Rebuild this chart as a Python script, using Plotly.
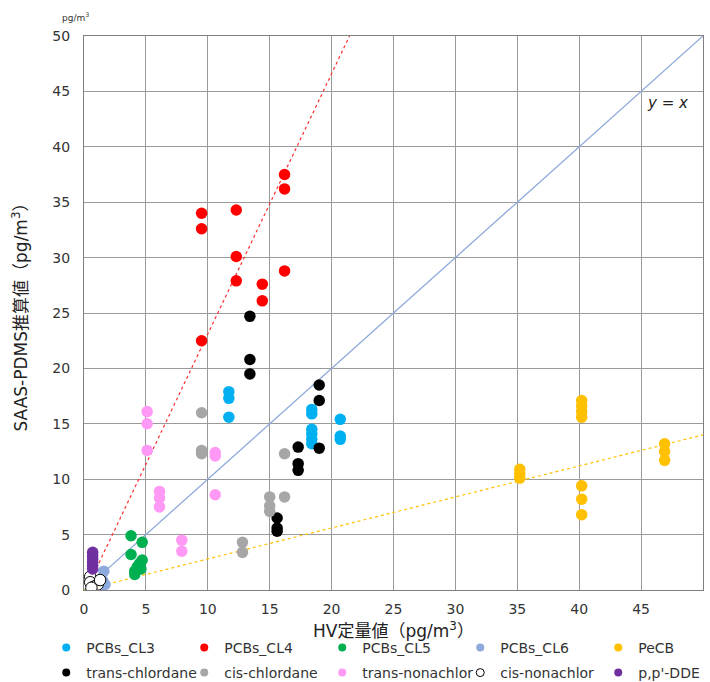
import numpy as np
import plotly.graph_objects as go

# ---- measured concentrations (x: HV, y: SAAS-PDMS estimate), pg/m3 ----
cl3_x = [11.7, 11.7, 11.7, 18.4, 18.4, 18.4, 18.4, 18.4, 18.4, 20.7, 20.7, 20.7]
cl3_y = [17.9, 17.3, 15.6, 16.3, 15.9, 14.5, 14.1, 13.6, 13.2, 15.4, 13.9, 13.6]

cl4_x = [9.5, 9.5, 9.5, 12.3, 12.3, 12.3, 14.4, 14.4, 16.2, 16.2, 16.2]
cl4_y = [34.0, 32.6, 22.5, 34.3, 30.1, 27.9, 27.6, 26.1, 37.5, 36.2, 28.8]

cl5_x = [3.8, 4.7, 3.8, 4.7, 4.5, 4.3, 4.6, 4.1, 4.1]
cl5_y = [4.9, 4.3, 3.2, 2.7, 2.4, 2.1, 1.9, 1.7, 1.4]

cl6_x = [1.6, 1.5, 1.7, 1.3]
cl6_y = [1.7, 0.9, 0.5, 0.3]

pecb_x = [35.2, 35.2, 35.2, 40.2, 40.2, 40.2, 40.2, 40.2, 40.2, 40.2, 46.9, 46.9, 46.9]
pecb_y = [10.9, 10.5, 10.1, 17.1, 16.6, 16.1, 15.6, 9.4, 8.2, 6.8, 13.2, 12.5, 11.7]

tchl_x = [13.4, 13.4, 13.4, 19.0, 19.0, 17.3, 19.0, 17.3, 17.3, 15.6, 15.6, 15.6]
tchl_y = [24.7, 20.8, 19.5, 18.5, 17.1, 12.9, 12.8, 11.4, 10.8, 6.5, 5.6, 5.3]

cchl_x = [9.5, 9.5, 9.5, 16.2, 15.0, 15.0, 15.0, 16.2, 12.8, 12.8]
cchl_y = [16.0, 12.6, 12.3, 12.3, 8.4, 7.6, 7.1, 8.4, 4.3, 3.4]

tnon_x = [5.1, 5.1, 5.1, 6.1, 6.1, 6.1, 10.6, 10.6, 10.6, 7.9, 7.9]
tnon_y = [16.1, 15.0, 12.6, 8.9, 8.3, 7.5, 12.4, 12.1, 8.6, 4.5, 3.5]

cnon_x = [0.5, 0.5, 0.8, 1.1, 1.3, 0.6]
cnon_y = [1.2, 0.7, 0.3, 0.5, 0.9, 0.2]

dde_x = [0.7, 0.7, 0.7, 0.7, 0.7, 0.7]
dde_y = [3.4, 3.1, 2.8, 2.5, 2.2, 1.9]

# trend-line coefficients (slope, intercept)
cl4_fit = (2.35, -0.4)
pecb_fit = (0.28, 0.0)

tick_vals = list(range(0, 55, 5))

series = [
    ("PCBs_CL3", cl3_x, cl3_y, "#00B0F0", "#00B0F0"),
    ("PCBs_CL4", cl4_x, cl4_y, "#FF0000", "#FF0000"),
    ("PCBs_CL5", cl5_x, cl5_y, "#00B050", "#00B050"),
    ("PCBs_CL6", cl6_x, cl6_y, "#8EA9DB", "#8EA9DB"),
    ("PeCB", pecb_x, pecb_y, "#FFC000", "#FFC000"),
    ("trans-chlordane", tchl_x, tchl_y, "#000000", "#000000"),
    ("cis-chlordane", cchl_x, cchl_y, "#A6A6A6", "#A6A6A6"),
    ("trans-nonachlor", tnon_x, tnon_y, "#FF99F5", "#FF99F5"),
    ("cis-nonachlor", cnon_x, cnon_y, "#FFFFFF", "#000000"),
    ("p,p'-DDE", dde_x, dde_y, "#7030A0", "#7030A0"),
]

FONT = "DejaVu Sans, Noto Sans CJK JP, sans-serif"

fig = go.Figure()

# reference and regression lines
fig.add_trace(go.Scatter(x=[0, 50], y=[0, 50], mode="lines",
                         line=dict(color="#8EA9DB", width=1.3),
                         showlegend=False, hoverinfo="skip"))
x4 = np.array([(0 - cl4_fit[1]) / cl4_fit[0], (50 - cl4_fit[1]) / cl4_fit[0]])
fig.add_trace(go.Scatter(x=x4, y=cl4_fit[0] * x4 + cl4_fit[1], mode="lines",
                         line=dict(color="#FF3030", width=1.2, dash="dot"),
                         showlegend=False, hoverinfo="skip"))
xp = np.array([0.0, 50.0])
fig.add_trace(go.Scatter(x=xp, y=pecb_fit[0] * xp + pecb_fit[1], mode="lines",
                         line=dict(color="#FFC000", width=1.2, dash="dot"),
                         showlegend=False, hoverinfo="skip"))

# data points
for name, xs, ys, fill, edge in series:
    fig.add_trace(go.Scatter(
        x=xs, y=ys, mode="markers", name=name, showlegend=False,
        marker=dict(size=11.5, color=fill, line=dict(color=edge, width=1 if fill == "#FFFFFF" else 0)),
    ))

# legend entries with smaller symbols: first five in the top row, rest below
for i, (name, xs, ys, fill, edge) in enumerate(series):
    fig.add_trace(go.Scatter(
        x=[None], y=[None], mode="markers", name=name,
        legend="legend" if i < 5 else "legend2",
        marker=dict(size=8, color=fill, line=dict(color=edge, width=1 if fill == "#FFFFFF" else 0)),
    ))

axis_common = dict(
    range=[0, 50], tickvals=tick_vals, showgrid=True, gridcolor="#9A9A9A", gridwidth=1.3,
    zeroline=False, showline=True, linecolor="#7F7F7F", linewidth=1.3, mirror=True,
    tickfont=dict(family=FONT, size=14, color="#333333"), fixedrange=True,
)

legend_common = dict(
    orientation="h", x=-0.061, xanchor="left", yanchor="middle",
    entrywidth=93, entrywidthmode="pixels", traceorder="normal",
    font=dict(family=FONT, size=14, color="#333333"),
    bgcolor="rgba(0,0,0,0)", itemclick=False, itemdoubleclick=False,
)

fig.update_layout(
    width=710, height=682,
    margin=dict(l=84, r=7, t=36, b=92, autoexpand=False),
    paper_bgcolor="white", plot_bgcolor="white",
    font=dict(family=FONT, size=14, color="#222222"),
    xaxis=dict(**axis_common, ticklabelstandoff=6,
               title=dict(text="HV定量値（pg/m<sup>3</sup>）", standoff=9,
                          font=dict(family=FONT, size=17, color="#222222"))),
    yaxis=dict(**axis_common, ticklabelstandoff=10,
               title=dict(text="SAAS-PDMS推算値（pg/m<sup>3</sup>）", standoff=20,
                          font=dict(family=FONT, size=17, color="#222222"))),
    legend=dict(**legend_common, y=(590 - 648) / 554),
    legend2=dict(**legend_common, y=(590 - 673) / 554),
    annotations=[
        dict(x=47.1, y=43.95, xref="x", yref="y", text="<i>y</i> = <i>x</i>", showarrow=False,
             font=dict(family=FONT, size=15, color="#222222")),
        dict(x=(75 - 84) / 619, y=(590 - 17) / 554, xref="paper", yref="paper",
             xanchor="center", yanchor="middle", text="pg/m<sup>3</sup>", showarrow=False,
             font=dict(family=FONT, size=9, color="#333333")),
    ],
)

fig.write_html("out.html")
